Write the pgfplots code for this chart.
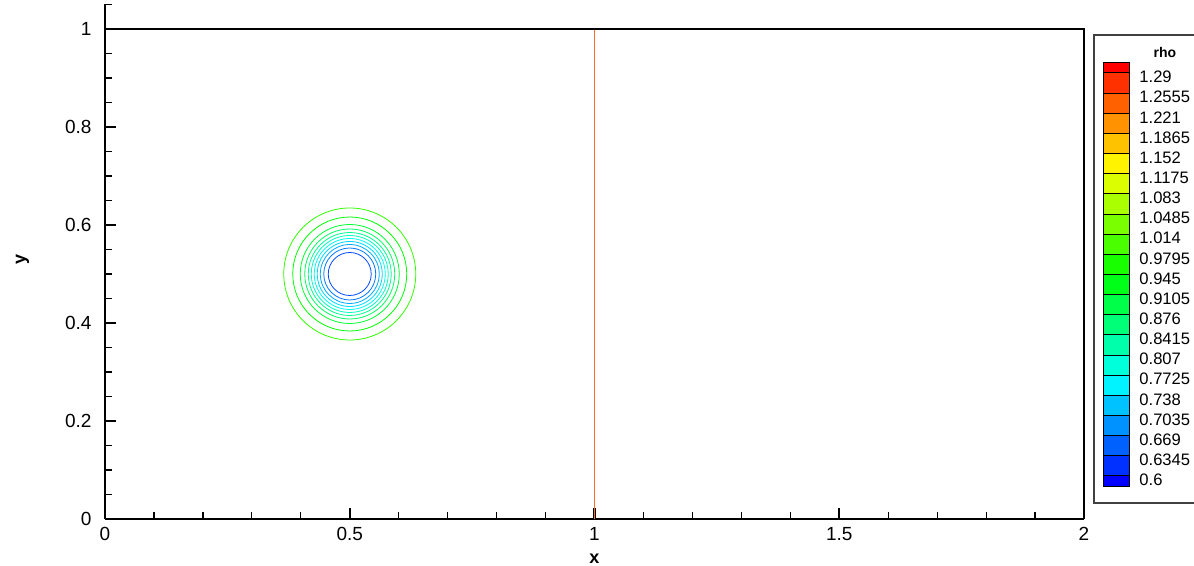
\documentclass[border=0pt]{standalone}
\usepackage{fontspec}
\setmainfont{Liberation Sans}
\usepackage{pgfplots}
\pgfplotsset{compat=1.18}
\newcommand\sw[3]{\addplot[fill={rgb,255:#1}, draw=black, line width=0.5pt] coordinates {(0,#2) (1,#2) (1,#3) (0,#3)} --cycle;}
\begin{document}
\begin{tikzpicture}
\path[use as bounding box] (0,0) rectangle (597pt,283pt);
\begin{axis}[
  at={(52.5pt,23.5pt)}, anchor=south west,
  scale only axis, width=489.5pt, height=257.25pt,
  xmin=0, xmax=2, ymin=0, ymax=1.05,
  axis x line*=bottom, axis y line*=left,
  axis line style={line width=1.4pt, black},
  xtick={0,0.5,1,1.5,2}, ytick={0,0.2,0.4,0.6,0.8,1},
  minor xtick={0.1,0.2,0.3,0.4,0.6,0.7,0.8,0.9,1.1,1.2,1.3,1.4,1.6,1.7,1.8,1.9},
  minor ytick={0.05,0.1,0.15,0.25,0.3,0.35,0.45,0.5,0.55,0.65,0.7,0.75,0.85,0.9,0.95,1.05},
  tick align=inside,
  major tick length=5.5pt, minor tick length=3.5pt,
  major tick style={black, line width=1.1pt},
  minor tick style={black, line width=0.6pt},
  /pgf/number format/assume math mode=true,
  ticklabel style={font=\fontsize{9.5}{11}\selectfont},
  xticklabel style={yshift=-0.8pt},
  yticklabel style={xshift=-3.2pt},
  xlabel={x}, ylabel={y},
  xlabel style={at={(axis description cs:0.5,0)}, anchor=base, yshift=-22.5pt, font=\bfseries\fontsize{9}{10}\selectfont},
  ylabel style={at={(axis description cs:-0.0843,0.5034)}, anchor=center, font=\bfseries\fontsize{9}{10}\selectfont},
  clip=false,
  colormap={tec}{rgb255=(0,0,255) rgb255=(0,255,255) rgb255=(0,255,0) rgb255=(255,255,0) rgb255=(255,0,0)},
  point meta min=0.58275, point meta max=1.30725,
]
\addplot[scatter, only marks, mark=o, point meta=explicit,
  scatter/use mapped color={draw=mapped color},
  visualization depends on={244.8*\thisrow{r} \as \rad},
  scatter/@pre marker code/.append style={/tikz/mark size=\rad pt, /tikz/line width=0.8pt}]
  table[x=x, y=y, meta=rho] {
x y r rho
0.5 0.5 0.0439 0.6345
0.5 0.5 0.0531 0.669
0.5 0.5 0.0602 0.7035
0.5 0.5 0.0664 0.738
0.5 0.5 0.0725 0.7725
0.5 0.5 0.0786 0.807
0.5 0.5 0.0847 0.8415
0.5 0.5 0.0919 0.876
0.5 0.5 0.1011 0.9105
0.5 0.5 0.1164 0.945
0.5 0.5 0.1348 0.9795
};
\addplot[color={rgb,255:red,250;green,110;blue,40}, line width=0.75pt] coordinates {(1,0) (1,1)};
\addplot[black, line width=1.4pt] coordinates {(0,1) (2,1) (2,0)};
\end{axis}
\draw[line width=0.9pt, black!75] (547pt,31.5pt) rectangle (620pt,265.5pt);
\node[font=\bfseries\fontsize{7}{8}\selectfont, anchor=base] at (582.5pt,254.3pt) {rho};
\begin{axis}[
  at={(551.5pt,39.96pt)}, anchor=south west,
  scale only axis, width=13pt, height=211.58pt,
  xmin=0, xmax=1, ymin=0.58275, ymax=1.30725,
  axis line style={draw=none}, xtick=\empty,
  ytick={0.6,0.6345,0.669,0.7035,0.738,0.7725,0.807,0.8415,0.876,0.9105,0.945,0.9795,1.014,1.0485,1.083,1.1175,1.152,1.1865,1.221,1.2555,1.29},
  yticklabels={0.6,0.6345,0.669,0.7035,0.738,0.7725,0.807,0.8415,0.876,0.9105,0.945,0.9795,1.014,1.0485,1.083,1.1175,1.152,1.1865,1.221,1.2555,1.29},
  yticklabel pos=right, major tick length=0pt, tick style={draw=none},
  yticklabel style={anchor=west, inner sep=0pt, xshift=5pt, yshift=-2pt, font=\fontsize{8.3}{9}\selectfont},
  clip=false,
]
\sw{red,0;green,0;blue,255}{0.58275}{0.6}
\sw{red,0;green,49;blue,255}{0.6}{0.6345}
\sw{red,0;green,97;blue,255}{0.6345}{0.669}
\sw{red,0;green,146;blue,255}{0.669}{0.7035}
\sw{red,0;green,194;blue,255}{0.7035}{0.738}
\sw{red,0;green,243;blue,255}{0.738}{0.7725}
\sw{red,0;green,255;blue,219}{0.7725}{0.807}
\sw{red,0;green,255;blue,170}{0.807}{0.8415}
\sw{red,0;green,255;blue,121}{0.8415}{0.876}
\sw{red,0;green,255;blue,73}{0.876}{0.9105}
\sw{red,0;green,255;blue,24}{0.9105}{0.945}
\sw{red,24;green,255;blue,0}{0.945}{0.9795}
\sw{red,73;green,255;blue,0}{0.9795}{1.014}
\sw{red,121;green,255;blue,0}{1.014}{1.0485}
\sw{red,170;green,255;blue,0}{1.0485}{1.083}
\sw{red,219;green,255;blue,0}{1.083}{1.1175}
\sw{red,255;green,243;blue,0}{1.1175}{1.152}
\sw{red,255;green,194;blue,0}{1.152}{1.1865}
\sw{red,255;green,146;blue,0}{1.1865}{1.221}
\sw{red,255;green,97;blue,0}{1.221}{1.2555}
\sw{red,255;green,49;blue,0}{1.2555}{1.29}
\sw{red,255;green,0;blue,0}{1.29}{1.30725}
\end{axis}
\end{tikzpicture}
\end{document}
